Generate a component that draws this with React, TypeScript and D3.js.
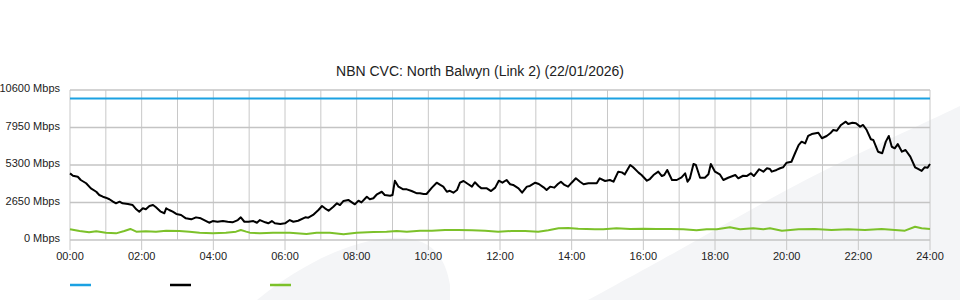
import React from "react";
import * as d3 from "d3";

const TITLE = "NBN CVC: North Balwyn (Link 2) (22/01/2026)";

// minutes since midnight, Mbps
const capacity: [number, number][] = [[0, 10000], [1440, 10000]];

const downstream: [number, number][] = [
  [0,4710],[5,4540],[13,4470],[18,4240],[27,4010],[35,3650],[44,3410],[49,3180],[55,3060],[60,2990],[66,2880],[72,2710],[77,2590],[83,2710],[88,2590],[97,2540],[105,2470],[111,2170],[116,2000],[122,2240],[127,2170],[133,2400],[139,2470],[144,2310],[152,2000],[158,1890],[161,2240],[166,2120],[172,2000],[178,1840],[186,1770],[194,1530],[203,1460],[211,1600],[219,1530],[228,1340],[233,1220],[239,1340],[247,1290],[256,1340],[264,1290],[272,1250],[281,1410],[286,1600],[292,1290],
  [299,1290],[307,1340],[313,1220],[318,1410],[327,1250],[332,1180],[338,1340],[343,1180],[352,1130],[360,1180],[368,1410],[374,1290],[382,1360],[394,1600],[399,1580],[407,1770],[416,2120],[422,2400],[427,2240],[433,2070],[441,2350],[447,2590],[452,2470],[458,2760],[466,2830],[472,2660],[477,2520],[483,2780],[488,2660],[497,3060],[502,2880],[508,2950],[514,3230],[522,3410],[527,3180],[536,3130],[540,3180],[544,4190],[550,3770],[558,3580],[564,3580],[572,3460],[581,3300],[586,3300],
  [592,3250],[597,3250],[606,3700],[614,4050],[620,3890],[625,3770],[631,3410],[636,3480],[642,3340],[648,3530],[653,4050],[659,4170],[667,3940],[673,3770],[678,4080],[684,3820],[689,3650],[698,3650],[705,3460],[712,3700],[718,4190],[724,4050],[731,4240],[737,3940],[742,3890],[751,3650],[757,3340],[765,3770],[770,3820],[779,4050],[785,3960],[793,3720],[798,3530],[804,3770],[811,3700],[817,3960],[822,4120],[828,3890],[834,3770],[840,4050],[847,4360],[854,4120],[860,3940],[868,4010],[876,4010],
  [882,4010],[887,4360],[896,4170],[904,4240],[910,4120],[918,4830],[924,4780],[929,4640],[938,5300],[943,5140],[952,4760],[957,4590],[966,4190],[971,4310],[977,4590],[985,4830],[991,4520],[995,4590],[1000,4950],[1008,4240],[1016,4240],[1024,4430],[1030,4710],[1034,4120],[1038,4360],[1044,5370],[1048,5300],[1055,4400],[1063,4400],[1069,4640],[1073,5370],[1080,4830],[1088,4640],[1094,4240],[1102,4400],[1114,4590],[1119,4360],[1127,4540],[1133,4520],[1140,4710],[1145,4520],[1154,5000],[1161,4830],[1167,5070],[1172,5020],
  [1175,4830],[1183,4950],[1189,5070],[1194,5140],[1200,5460],[1208,5530],[1214,6130],[1220,6710],[1225,6950],[1231,6830],[1236,7350],[1242,7490],[1253,7580],[1259,7190],[1267,7350],[1273,7540],[1278,7770],[1284,7720],[1291,8130],[1299,8360],[1303,8200],[1310,8290],[1316,8250],[1323,8010],[1328,8130],[1334,7770],[1341,7120],[1345,7070],[1353,6240],[1360,6130],[1366,6950],[1371,7350],[1376,6590],[1381,6480],[1386,6780],[1393,6240],[1399,6360],[1407,5890],[1415,5140],[1420,5020],[1426,4880],[1431,5140],[1436,5110],[1440,5370],
];

const upstream: [number, number][] = [
  [0,760],[16,640],[32,540],[44,620],[60,520],[77,470],[91,640],[101,780],[111,590],[127,620],[144,590],[161,660],[183,640],[200,590],[217,520],[239,470],[261,520],[278,590],[286,710],[295,590],[301,520],[318,470],[340,520],[368,520],[396,420],[413,520],[435,520],[458,400],[480,520],[508,570],[530,590],[547,640],[564,590],[586,660],[606,660],[628,710],[650,710],[673,690],[695,660],[717,590],[740,640],[762,640],[784,590],[801,690],[818,830],[834,850],[851,800],[879,760],[893,760],[915,830],[938,780],[960,800],[982,780],[1005,780],[1027,760],[1049,690],[1066,760],[1083,760],[1105,900],[1122,760],[1144,830],[1161,760],[1172,830],[1192,660],[1220,760],[1247,780],[1275,710],[1303,760],[1331,710],[1359,780],[1398,660],[1415,940],[1426,830],[1440,780],
];

const yTicks = [0, 2650, 5300, 7950, 10600];
const xTickLabels = ["00:00","02:00","04:00","06:00","08:00","10:00","12:00","14:00","16:00","18:00","20:00","22:00","24:00"];
const seriesColors = ["#1ba1e2", "#000000", "#7cc12a"];

const W = 960, H = 300;
const M = { left: 70, right: 30, top: 90, bottom: 60 };
const FONT = "'Liberation Sans', Arial, Helvetica, sans-serif";

export default function App() {
  const x = d3.scaleLinear().domain([0, 1440]).range([M.left, W - M.right]);
  const y = d3.scaleLinear().domain([0, 10600]).range([H - M.bottom, M.top]);
  const line = d3.line<[number, number]>().x((d) => x(d[0])).y((d) => y(d[1]));
  const hours = d3.range(0, 25);

  const swoosh = d3.line<[number, number]>().curve(d3.curveBasis);
  const bandEdge: [number, number][] = [[588, 300], [680, 250], [765, 201], [850, 157], [935, 118], [960, 106]];
  const bandPath = swoosh(bandEdge) + " L960,300 Z";
  const leftShape = "M257,300 C300,265 350,240 392,238 C430,236 445,255 450,285 L450,300 Z";

  const series = [capacity, downstream, upstream];

  return (
    <svg width={W} height={H} style={{ position: "absolute", left: 0, top: 0, background: "#fff" }} fontFamily={FONT}>
      <path d={leftShape} fill="#f4f5f7" />
      <path d={bandPath} fill="#f4f5f7" />
      <text x={480} y={76} textAnchor="middle" fontSize={14} fill="#222">{TITLE}</text>
      {hours.map((h) => (
        <line key={"v" + h} x1={x(h * 60)} x2={x(h * 60)} y1={y(10600)} y2={h % 2 === 0 ? y(0) + 10 : y(0)} stroke="#c8c8c8" strokeWidth={1} />
      ))}
      {yTicks.map((t) => (
        <line key={"h" + t} x1={x(0)} x2={x(1440)} y1={y(t)} y2={y(t)} stroke="#c4c4c4" strokeWidth={1.5} />
      ))}
      {yTicks.map((t) => (
        <text key={"yl" + t} x={60} y={y(t) + 2} textAnchor="end" fontSize={11} fill="#222">{`${t} Mbps`}</text>
      ))}
      {xTickLabels.map((l, i) => (
        <text key={"xl" + l} x={x(i * 120)} y={260} textAnchor="middle" fontSize={11} fill="#222">{l}</text>
      ))}
      {series.map((s, i) => (
        <path key={"s" + i} d={line(s) || ""} fill="none" stroke={seriesColors[i]} strokeWidth={2} strokeLinejoin="round" />
      ))}
      {seriesColors.map((c, i) => (
        <line key={"lg" + i} x1={70 + i * 100} x2={91 + i * 100} y1={285} y2={285} stroke={c} strokeWidth={2.5} />
      ))}
    </svg>
  );
}
